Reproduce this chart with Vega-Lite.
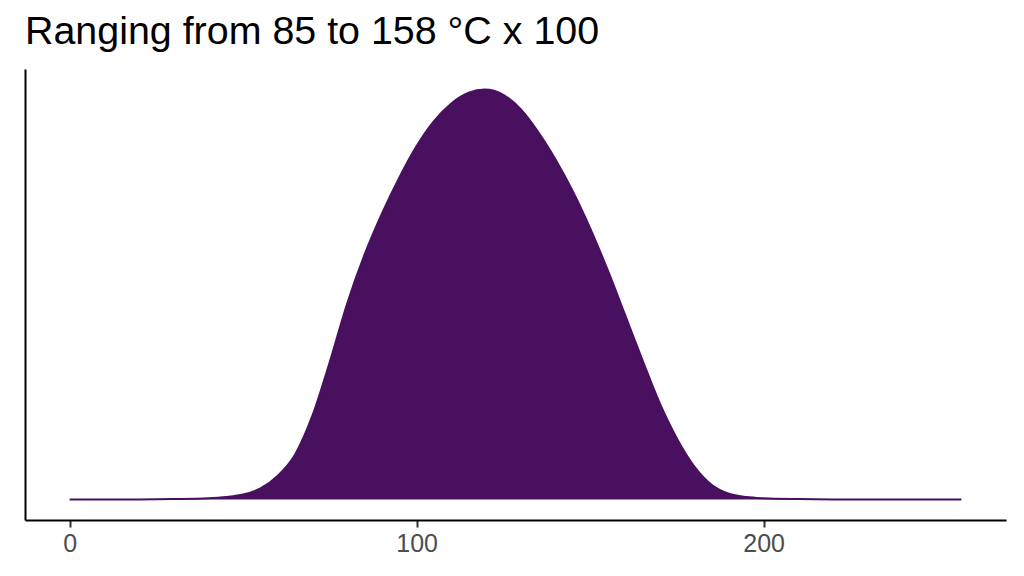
{
  "$schema": "https://vega.github.io/schema/vega-lite/v6.json",
  "width": 981,
  "height": 451,
  "autosize": {"type": "none"},
  "padding": {"left": 25, "top": 69, "right": 18, "bottom": 56},
  "background": "white",
  "title": {
    "text": "Ranging from 85 to 158 °C x 100",
    "anchor": "start",
    "frame": "group",
    "font": "Liberation Sans",
    "fontSize": 39.4,
    "fontWeight": "normal",
    "color": "black",
    "offset": 17
  },
  "data": {
    "values": [
      {"x": 0, "y": 0.0},
      {"x": 20, "y": 0.0003},
      {"x": 30, "y": 0.001},
      {"x": 40, "y": 0.003},
      {"x": 45, "y": 0.006},
      {"x": 50, "y": 0.012},
      {"x": 55, "y": 0.027},
      {"x": 60, "y": 0.058},
      {"x": 65, "y": 0.11},
      {"x": 70, "y": 0.205},
      {"x": 75, "y": 0.336},
      {"x": 80, "y": 0.478},
      {"x": 85, "y": 0.597},
      {"x": 90, "y": 0.697},
      {"x": 95, "y": 0.785},
      {"x": 100, "y": 0.862},
      {"x": 105, "y": 0.923},
      {"x": 110, "y": 0.966},
      {"x": 115, "y": 0.992},
      {"x": 119.6, "y": 1.0},
      {"x": 125, "y": 0.987},
      {"x": 130, "y": 0.952},
      {"x": 135, "y": 0.897},
      {"x": 140, "y": 0.83},
      {"x": 145, "y": 0.752},
      {"x": 150, "y": 0.662},
      {"x": 155, "y": 0.561},
      {"x": 160, "y": 0.452},
      {"x": 165, "y": 0.342},
      {"x": 170, "y": 0.236},
      {"x": 175, "y": 0.149},
      {"x": 180, "y": 0.081},
      {"x": 185, "y": 0.036},
      {"x": 190, "y": 0.014},
      {"x": 195, "y": 0.006},
      {"x": 200, "y": 0.003},
      {"x": 210, "y": 0.001},
      {"x": 220, "y": 0.0003},
      {"x": 235, "y": 0.0001},
      {"x": 257, "y": 0.0}
    ]
  },
  "encoding": {
    "x": {
      "field": "x",
      "type": "quantitative",
      "scale": {"domain": [-12.85, 269.85], "nice": false, "zero": false},
      "axis": {
        "title": null,
        "values": [0, 100, 200],
        "grid": false,
        "domainColor": "black",
        "domainWidth": 2,
        "tickColor": "#333333",
        "tickWidth": 2,
        "tickSize": 7,
        "labelFont": "Liberation Sans",
        "labelFontSize": 25,
        "labelColor": "#4D4D4D",
        "labelPadding": 4
      }
    },
    "y": {
      "field": "y",
      "type": "quantitative",
      "scale": {"domain": [-0.05, 1.05], "nice": false, "zero": false},
      "axis": {
        "title": null,
        "grid": false,
        "labels": false,
        "ticks": false,
        "domainColor": "black",
        "domainWidth": 2
      }
    }
  },
  "layer": [
    {
      "mark": {"type": "area", "interpolate": "monotone", "color": "#48105E"},
      "encoding": {"y2": {"datum": 0}}
    },
    {
      "mark": {"type": "line", "interpolate": "monotone", "color": "#48105E", "strokeWidth": 2}
    }
  ],
  "config": {"view": {"stroke": null}}
}
